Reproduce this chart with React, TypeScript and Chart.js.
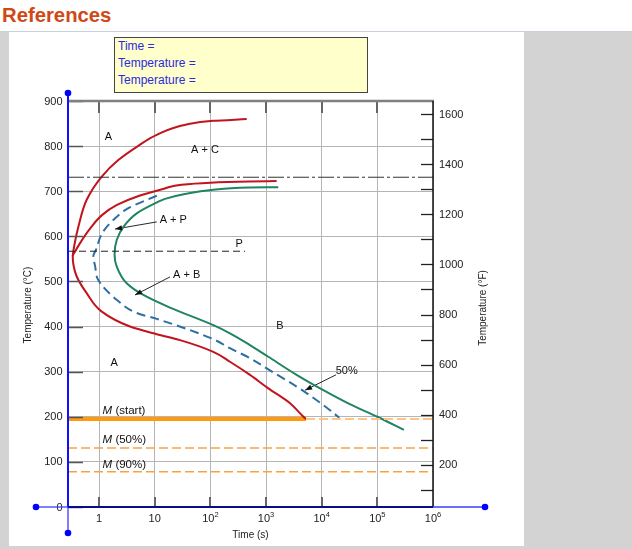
import React, { useEffect, useRef } from "react";
import { Chart, registerables } from "chart.js";

Chart.register(...registerables);

const FONT = "'Liberation Sans', Arial, Helvetica, sans-serif";

// ---- axis ranges ----
const timeMin = 0.277;
const timeMax = 1e6;
const tempMin = 0;
const tempMax = 900;

// ---- tick labels ----
const timeDecades = [1, 10, 100, 1000, 10000, 100000, 1000000];
const timeTickBase = ["1", "10", "10", "10", "10", "10", "10"];
const timeTickExp = ["", "", "2", "3", "4", "5", "6"];
const celsiusTicks = [0, 100, 200, 300, 400, 500, 600, 700, 800, 900];
const fahrenheitLabels = [200, 400, 600, 800, 1000, 1200, 1400, 1600];
const fahrenheitMarks = [100, 200, 300, 400, 500, 600, 700, 800, 900, 1000, 1100, 1200, 1300, 1400, 1500, 1600];

// ---- curves: [time (s), temperature (°C)] ----
const cementiteStart = [
  [450, 860], [113, 856], [37.6, 848], [10.9, 825], [5.0, 800], [2.22, 769],
  [1.11, 732], [0.6, 681], [0.425, 621], [0.356, 577], [0.337, 557],
];
const transformationStart = [
  [1550, 722.5], [500, 721.5], [100, 719], [28.5, 714], [14.1, 705], [5.45, 690.5],
  [2.1, 669.5], [1.13, 647], [0.689, 617], [0.456, 585], [0.37, 566], [0.337, 556],
  [0.348, 536], [0.397, 511], [0.6, 474], [1.12, 433], [3.6, 400], [10.9, 383],
  [28.5, 370], [113, 344], [225, 322], [515, 293], [1100, 263], [2700, 230],
  [4700, 200], [5230, 195],
];
const fiftyPercent = [
  [10.9, 690], [3.3, 662], [1.8, 636], [1.15, 608], [0.88, 570], [0.79, 556],
  [0.85, 534], [0.97, 503], [2.1, 459], [4.76, 430], [10.9, 417], [113, 372],
  [225, 352], [515, 330], [1100, 305], [3540, 267], [10700, 226], [20700, 198],
];
const transformationFinish = [
  [1660, 709], [515, 708], [113, 703], [35, 694], [15.3, 683], [10.9, 675],
  [4.76, 651], [2.74, 621], [2.08, 592], [1.9, 560], [2.08, 533], [3.14, 496],
  [6.25, 470], [18.8, 442], [113, 403], [225, 385], [515, 359], [1100, 333],
  [3540, 293], [10700, 259], [32000, 228], [104000, 199], [300000, 171],
];

// ---- horizontal reference lines ----
const eutectoidTemp = 731;
const noseLineTemp = 567;
const noseLineEndTime = 420;
const msTemp = 195;
const msEndTime = 5230;
const m50Temp = 131;
const m90Temp = 78;

// ---- annotations ----
const regionText = ["A", "A + C", "A + P", "P", "A + B", "B", "A", "50%"];
const regionTime = [1.47, 80, 21.6, 331, 37.6, 1780, 1.88, 28100];
const regionTemp = [821, 792, 636, 583, 514, 402, 320, 302];

const mLabelSuffix = [" (start)", " (50%)", " (90%)"];
const mLabelTemp = [213, 148, 93];
const mLabelTime = 1.16;

const arrowFrom = [[10.9, 632], [18.8, 510], [18100, 293]];
const arrowTo = [[1.94, 616], [4.43, 470], [5030, 259]];

const cToF = (c: number) => c * 9 / 5 + 32;

type Pt = number[];
const toXY = (pts: Pt[]) => pts.map(([x, y]) => ({ x, y }));

// straight segments (indexed along time)
function straight(pts: Pt[], color: string, width: number, dash: number[] = []) {
  return {
    data: toXY(pts),
    borderColor: color,
    backgroundColor: color,
    borderWidth: width,
    borderDash: dash,
    pointRadius: 0,
    pointHoverRadius: 0,
    tension: 0,
    fill: false,
    borderCapStyle: "butt" as const,
  };
}

// smooth C-curves: monotone cubic along the temperature axis
function curve(pts: Pt[], color: string, width: number, dash: number[] = []) {
  return {
    ...straight(pts, color, width, dash),
    indexAxis: "y" as const,
    cubicInterpolationMode: "monotone" as const,
  };
}

const decorPlugin = {
  id: "tttDecor",
  afterDatasetsDraw(chart: any) {
    const ctx: CanvasRenderingContext2D = chart.ctx;
    const { left, right, top, bottom } = chart.chartArea;
    const xs = chart.scales.x;
    const ys = chart.scales.y;
    const fs = chart.scales.y2;
    const seg = (x1: number, y1: number, x2: number, y2: number) => {
      ctx.beginPath();
      ctx.moveTo(x1, y1);
      ctx.lineTo(x2, y2);
      ctx.stroke();
    };
    ctx.save();
    ctx.setLineDash([]);

    // inward tick marks, left (°C)
    ctx.strokeStyle = "#555";
    ctx.lineWidth = 1.5;
    for (const c of celsiusTicks) {
      const py = Math.round(ys.getPixelForValue(c)) + 0.5;
      seg(left, py, left + 15, py);
    }
    // top and bottom decade marks
    ctx.strokeStyle = "#666";
    ctx.lineWidth = 2;
    for (const d of timeDecades.slice(0, -1)) {
      const px = Math.round(xs.getPixelForValue(d));
      seg(px, top, px, top + 12);
      seg(px, bottom - 10, px, bottom);
    }
    // right (°F) marks
    ctx.strokeStyle = "#222";
    ctx.lineWidth = 1.3;
    for (const f of fahrenheitMarks) {
      const py = Math.round(fs.getPixelForValue(f)) + 0.5;
      seg(right - 12, py, right, py);
    }
    // frame
    ctx.strokeStyle = "#808080";
    ctx.lineWidth = 2.5;
    seg(left, top, right + 1, top);
    ctx.strokeStyle = "#111";
    ctx.lineWidth = 1.5;
    seg(right, top, right, bottom);

    // arrow heads
    ctx.fillStyle = "#111";
    for (let i = 0; i < arrowTo.length; i++) {
      const x1 = xs.getPixelForValue(arrowFrom[i][0]);
      const y1 = ys.getPixelForValue(arrowFrom[i][1]);
      const x2 = xs.getPixelForValue(arrowTo[i][0]);
      const y2 = ys.getPixelForValue(arrowTo[i][1]);
      const a = Math.atan2(y2 - y1, x2 - x1);
      const L = 7, W = 2.6;
      ctx.beginPath();
      ctx.moveTo(x2, y2);
      ctx.lineTo(x2 - L * Math.cos(a) + W * Math.sin(a), y2 - L * Math.sin(a) - W * Math.cos(a));
      ctx.lineTo(x2 - L * Math.cos(a) - W * Math.sin(a), y2 - L * Math.sin(a) + W * Math.cos(a));
      ctx.closePath();
      ctx.fill();
    }

    // region labels
    ctx.fillStyle = "#111";
    ctx.font = `11px ${FONT}`;
    ctx.textAlign = "center";
    ctx.textBaseline = "middle";
    for (let i = 0; i < regionText.length; i++) {
      ctx.fillText(regionText[i], xs.getPixelForValue(regionTime[i]), ys.getPixelForValue(regionTemp[i]));
    }
    // martensite labels
    ctx.textAlign = "left";
    for (let i = 0; i < mLabelSuffix.length; i++) {
      const px = xs.getPixelForValue(mLabelTime);
      const py = ys.getPixelForValue(mLabelTemp[i]);
      ctx.font = `italic 11.5px ${FONT}`;
      ctx.fillText("M", px, py);
      const w = ctx.measureText("M").width;
      ctx.font = `11.5px ${FONT}`;
      ctx.fillText(mLabelSuffix[i], px + w, py);
    }

    // °C tick labels
    ctx.fillStyle = "#222";
    ctx.font = `11px ${FONT}`;
    ctx.textAlign = "right";
    for (const c of celsiusTicks) {
      ctx.fillText(String(c), left - 5.5, ys.getPixelForValue(c) + 0.5);
    }
    // °F tick labels
    ctx.textAlign = "left";
    for (const f of fahrenheitLabels) {
      ctx.fillText(String(f), right + 6, fs.getPixelForValue(f) + 0.5);
    }
    // time tick labels with superscript exponents
    for (let i = 0; i < timeDecades.length; i++) {
      const px = xs.getPixelForValue(timeDecades[i]);
      ctx.font = `11px ${FONT}`;
      const wb = ctx.measureText(timeTickBase[i]).width;
      ctx.font = `7.5px ${FONT}`;
      const we = timeTickExp[i] ? ctx.measureText(timeTickExp[i]).width : 0;
      const x0 = px - (wb + we) / 2;
      ctx.font = `11px ${FONT}`;
      ctx.fillText(timeTickBase[i], x0, bottom + 11.5);
      if (timeTickExp[i]) {
        ctx.font = `7.5px ${FONT}`;
        ctx.fillText(timeTickExp[i], x0 + wb, bottom + 8);
      }
    }
    // axis titles
    ctx.font = `10px ${FONT}`;
    ctx.textAlign = "center";
    ctx.fillText("Time (s)", (left + right) / 2, bottom + 28);
    ctx.save();
    ctx.translate(left - 40, (top + bottom) / 2 + 1);
    ctx.rotate(-Math.PI / 2);
    ctx.fillText("Temperature (°C)", 0, 0);
    ctx.restore();
    ctx.save();
    ctx.translate(right + 50, (top + bottom) / 2 + 4);
    ctx.rotate(-Math.PI / 2);
    ctx.fillText("Temperature (°F)", 0, 0);
    ctx.restore();

    // crosshair axes (blue) at time minimum / 0 °C
    const cx = Math.round(xs.getPixelForValue(timeMin));
    const cy = Math.round(ys.getPixelForValue(tempMin));
    ctx.strokeStyle = "#3d3dff";
    ctx.lineWidth = 1.3;
    seg(left - 32, cy, cx, cy);
    seg(right, cy, right + 52, cy);
    seg(cx, cy, cx, bottom + 26);
    ctx.strokeStyle = "#0a0a8a";
    ctx.lineWidth = 2;
    seg(cx, cy, right, cy);
    ctx.strokeStyle = "#1010ff";
    ctx.lineWidth = 2;
    seg(cx, top - 8, cx, cy);
    ctx.fillStyle = "#0000ff";
    for (const [dx, dy] of [[left - 32, cy], [right + 52, cy], [cx, top - 8], [cx, bottom + 26]]) {
      ctx.beginPath();
      ctx.arc(dx, dy, 3.3, 0, Math.PI * 2);
      ctx.fill();
    }
    ctx.restore();
  },
};

export default function App() {
  const canvasRef = useRef<HTMLCanvasElement | null>(null);

  useEffect(() => {
    if (!canvasRef.current) return;
    const datasets: any[] = [
      straight([[timeMin, m90Temp], [timeMax, m90Temp]], "#f5a540", 1.5, [9, 4]),
      straight([[timeMin, m50Temp], [timeMax, m50Temp]], "#f5a540", 1.5, [9, 4]),
      straight([[msEndTime, msTemp], [timeMax, msTemp]], "#fdc485", 2, [9, 4]),
      straight([[timeMin, noseLineTemp], [noseLineEndTime, noseLineTemp]], "#222", 1, [7, 4]),
      straight([[timeMin, eutectoidTemp], [timeMax, eutectoidTemp]], "#333", 1, [16, 3, 3, 3]),
      curve(cementiteStart, "#c1141e", 2),
      curve(transformationStart, "#c1141e", 2),
      curve(fiftyPercent, "#2f6ea3", 2, [9, 5]),
      curve(transformationFinish, "#1f8462", 2),
      straight([[timeMin, msTemp], [msEndTime, msTemp]], "#ff9a0a", 4),
    ];
    for (let i = 0; i < arrowFrom.length; i++) {
      datasets.push(straight([arrowFrom[i], arrowTo[i]], "#111", 0.9));
    }

    const chart = new Chart(canvasRef.current, {
      type: "line",
      data: { datasets },
      options: {
        responsive: false,
        maintainAspectRatio: false,
        animation: false,
        events: [],
        layout: { padding: { left: 59, top: 69, right: 91, bottom: 39 }, autoPadding: false },
        plugins: { legend: { display: false }, tooltip: { enabled: false } },
        scales: {
          x: {
            type: "logarithmic",
            position: "bottom",
            min: timeMin,
            max: timeMax,
            afterBuildTicks: (s: any) => {
              s.ticks = timeDecades.map((v) => ({ value: v }));
            },
            ticks: { display: false },
            grid: { color: "#b5b5b5", lineWidth: 1, drawTicks: false },
            border: { display: false },
          },
          y: {
            type: "linear",
            position: "left",
            min: tempMin,
            max: tempMax,
            afterBuildTicks: (s: any) => {
              s.ticks = celsiusTicks.map((v) => ({ value: v }));
            },
            ticks: { display: false },
            grid: { color: "#b5b5b5", lineWidth: 1, drawTicks: false },
            border: { display: false },
          },
          y2: {
            type: "linear",
            position: "right",
            min: cToF(tempMin),
            max: cToF(tempMax),
            ticks: { display: false },
            grid: { display: false, drawTicks: false },
            border: { display: false },
          },
        },
      } as any,
      plugins: [decorPlugin],
    });
    return () => chart.destroy();
  }, []);

  return (
    <div
      style={{
        position: "absolute",
        left: 0,
        top: 0,
        width: 632,
        height: 549,
        background: "#fff",
        overflow: "hidden",
        fontFamily: FONT,
      }}
    >
      <div
        style={{
          position: "absolute",
          left: 2,
          top: 3,
          fontSize: 20.3,
          lineHeight: "24px",
          fontWeight: "bold",
          color: "#d04814",
        }}
      >
        References
      </div>
      <div
        style={{
          position: "absolute",
          left: 0,
          top: 31,
          width: 632,
          height: 518,
          background: "#d3d3d3",
          borderTop: "1px solid #c8d0dc",
          boxSizing: "border-box",
        }}
      />
      <div style={{ position: "absolute", left: 9, top: 32, width: 515, height: 514, background: "#fff" }}>
        <canvas ref={canvasRef} width={515} height={514} style={{ display: "block" }} />
      </div>
      <div
        style={{
          position: "absolute",
          left: 114,
          top: 37,
          width: 254,
          height: 56,
          boxSizing: "border-box",
          background: "#ffffcc",
          border: "1px solid #444",
          paddingLeft: 3,
          color: "#2a2ae0",
          fontSize: 12,
          lineHeight: "17px",
        }}
      >
        <div>Time =</div>
        <div>Temperature =</div>
        <div>Temperature =</div>
      </div>
    </div>
  );
}
